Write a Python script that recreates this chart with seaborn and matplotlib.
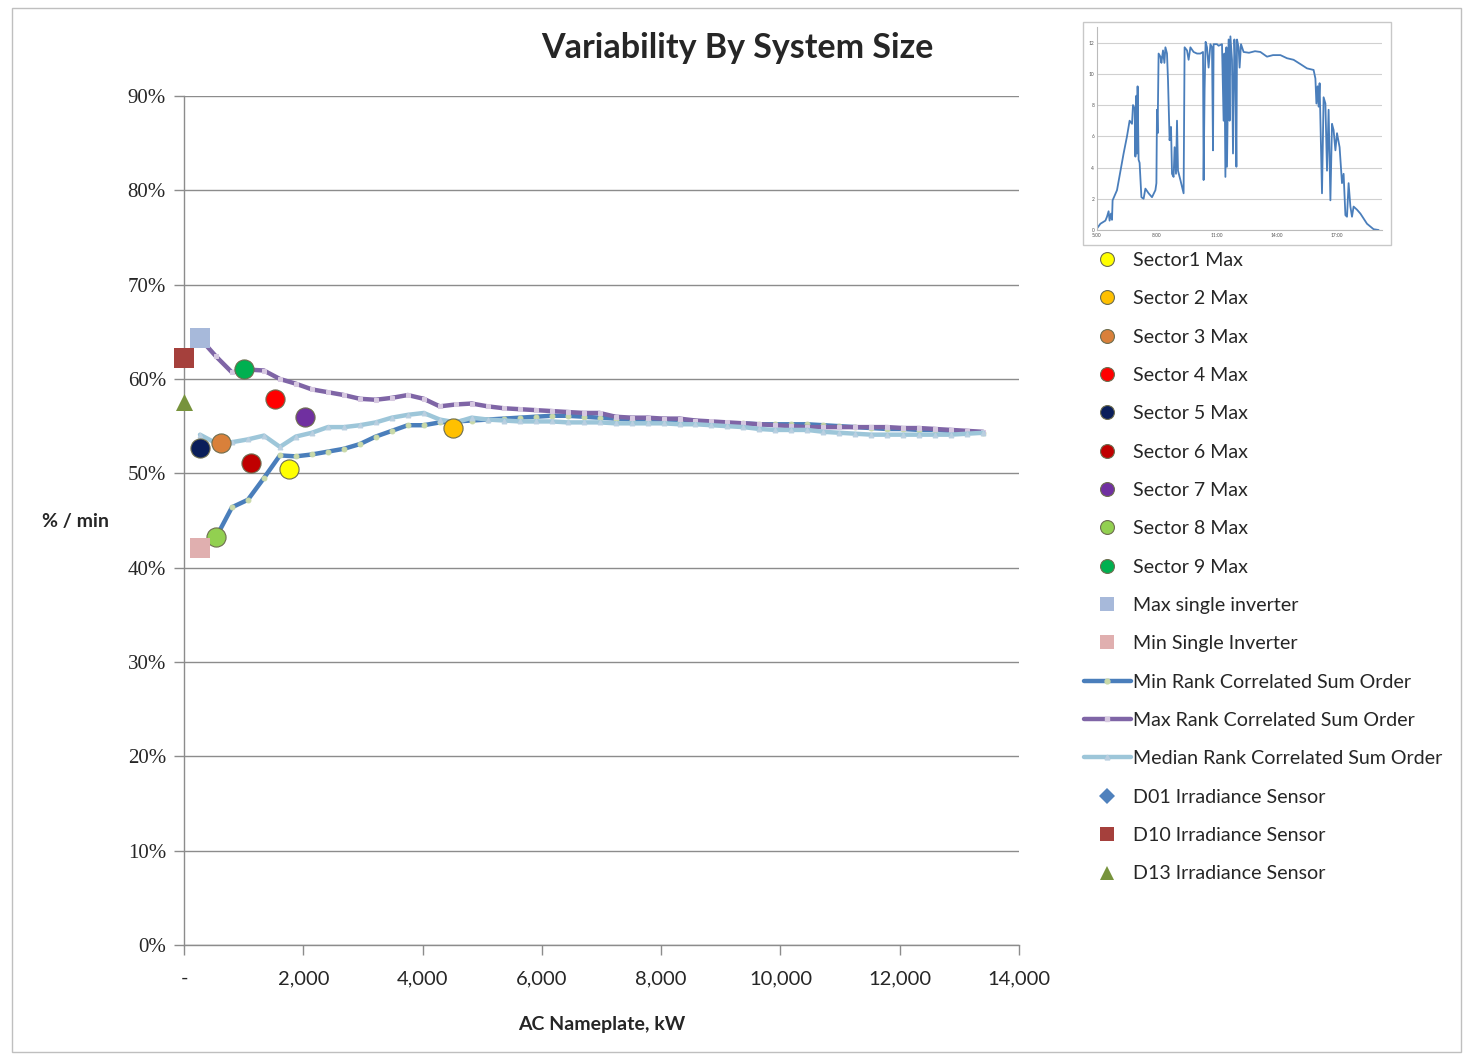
import matplotlib
matplotlib.use("Agg")
import matplotlib.pyplot as plt
import matplotlib.ticker as mticker
from matplotlib.patches import Rectangle
from matplotlib.lines import Line2D
import seaborn as sns
import numpy as np
import pandas as pd

# ---------------- data ----------------
step_kw = 268
n_pts = 50
cum_kw = [step_kw * (i + 1) for i in range(n_pts)]

min_rank = [42.1, 43.2, 46.4, 47.2, 49.5, 51.9, 51.8, 52.0, 52.3, 52.6,
            53.1, 53.9, 54.5, 55.1, 55.1, 55.4, 55.5, 55.6, 55.7, 55.8,
            55.9, 56.0, 56.1, 56.1, 56.0, 55.9, 55.8, 55.7, 55.7, 55.6,
            55.6, 55.5, 55.4, 55.3, 55.3, 55.2, 55.2, 55.2, 55.2, 55.1,
            55.0, 54.9, 54.8, 54.7, 54.7, 54.6, 54.6, 54.5, 54.4, 54.3]
max_rank = [64.3, 62.4, 60.7, 61.0, 60.9, 60.0, 59.5, 58.9, 58.6, 58.3,
            57.9, 57.8, 58.0, 58.3, 57.9, 57.1, 57.3, 57.4, 57.1, 56.9,
            56.8, 56.7, 56.6, 56.5, 56.4, 56.4, 56.0, 55.9, 55.9, 55.8,
            55.8, 55.6, 55.5, 55.4, 55.3, 55.2, 55.1, 55.0, 54.9, 54.9,
            54.9, 54.9, 54.9, 54.9, 54.8, 54.8, 54.7, 54.6, 54.5, 54.4]
median_rank = [54.1, 53.2, 53.3, 53.6, 54.0, 52.8, 53.9, 54.3, 54.9, 54.9,
               55.1, 55.4, 55.9, 56.2, 56.4, 55.7, 55.4, 55.9, 55.7, 55.6,
               55.5, 55.5, 55.5, 55.4, 55.4, 55.4, 55.3, 55.3, 55.3, 55.3,
               55.2, 55.2, 55.1, 55.0, 54.9, 54.7, 54.6, 54.6, 54.6, 54.4,
               54.3, 54.2, 54.1, 54.1, 54.1, 54.1, 54.1, 54.1, 54.2, 54.3]

point_labels = ["Sector1 Max", "Sector 2 Max", "Sector 3 Max", "Sector 4 Max",
                "Sector 5 Max", "Sector 6 Max", "Sector 7 Max", "Sector 8 Max",
                "Sector 9 Max", "Max single inverter", "Min Single Inverter",
                "D01 Irradiance Sensor", "D10 Irradiance Sensor", "D13 Irradiance Sensor"]
point_x = [1766, 4510, 620, 1526, 268, 1123, 2029, 531, 1006, 268, 268, 0, 0, 0]
point_y = [50.5, 54.8, 53.25, 57.9, 52.7, 51.1, 56.0, 43.2, 61.05, 64.35, 42.1, 62.2, 62.2, 57.6]
point_colors = ["#FFFF00", "#FFC000", "#D9803A", "#FF0000", "#0A1E5A", "#C00000",
                "#7030A0", "#92D050", "#00B050", "#A7B9DA", "#E0AFAF",
                "#4F81BD", "#A5403C", "#77933C"]
point_markers = ["o"] * 9 + ["s", "s", "D", "s", "^"]

line_labels = ["Min Rank Correlated Sum Order", "Max Rank Correlated Sum Order",
               "Median Rank Correlated Sum Order"]

# inset irradiance trace (hours, value)
inset_t = [5.00, 5.17, 5.42, 5.50, 5.58, 5.63, 5.70, 5.75, 5.78, 6.00, 6.33, 6.50,
           6.63, 6.75, 6.80, 6.88, 6.92, 6.97, 7.00, 7.03, 7.08, 7.13, 7.22, 7.33,
           7.42, 7.58, 7.75, 7.92, 7.97, 8.00, 8.03, 8.08, 8.17, 8.22, 8.30, 8.37,
           8.42, 8.50, 8.55, 8.63, 8.70, 8.75, 8.83, 8.88, 8.95, 9.00, 9.05, 9.17,
           9.33, 9.38, 9.50, 9.58, 9.67, 9.83, 10.00, 10.17, 10.30, 10.33, 10.38,
           10.43, 10.50, 10.58, 10.67, 10.75, 10.80, 10.83, 11.00, 11.08, 11.25,
           11.33, 11.37, 11.42, 11.47, 11.50, 11.58, 11.63, 11.67, 11.75, 11.80,
           11.87, 11.92, 11.97, 12.00, 12.08, 12.13, 12.20, 12.33, 12.60, 12.90,
           13.17, 13.50, 13.80, 14.17, 14.50, 14.83, 15.20, 15.50, 15.83, 15.92,
           15.97, 16.03, 16.08, 16.13, 16.25, 16.33, 16.42, 16.50, 16.58, 16.67,
           16.75, 16.83, 16.92, 17.00, 17.13, 17.25, 17.33, 17.42, 17.50, 17.58,
           17.67, 17.75, 17.83, 18.00, 18.17, 18.50, 18.83, 19.08]
inset_v = [0.1, 0.4, 0.6, 0.85, 1.2, 0.6, 1.05, 0.65, 1.9, 2.55, 4.9, 6.0,
           7.0, 6.8, 8.0, 7.8, 4.7, 8.6, 4.9, 9.2, 4.5, 4.3, 2.1, 2.0,
           2.65, 2.35, 2.1, 2.55, 3.0, 7.7, 6.2, 11.3, 11.1, 10.7, 11.5, 10.7,
           11.7, 11.3, 9.6, 5.75, 6.6, 3.6, 3.4, 5.3, 3.6, 7.0, 3.8, 3.2,
           2.35, 11.7, 11.5, 10.9, 11.7, 11.4, 11.3, 11.3, 11.4, 3.2, 9.0,
           12.05, 11.7, 10.4, 11.9, 11.7, 5.1, 11.9, 11.9, 11.8, 11.9,
           7.0, 11.3, 3.4, 11.7, 4.05, 12.2, 7.0, 12.4, 10.9, 4.9,
           12.2, 10.4, 4.05, 12.2, 11.7, 10.4, 11.9, 11.4, 11.35, 11.45,
           11.4, 11.1, 11.2, 11.2, 11.0, 10.9, 10.6, 10.35, 10.25, 9.7,
           8.1, 9.2, 7.9, 9.4, 2.35, 8.5, 8.1, 3.8, 7.7, 1.9,
           6.8, 6.4, 5.1, 6.2, 5.3, 3.0, 3.6, 0.95, 0.85, 3.0,
           1.5, 0.85, 1.5, 1.3, 1.05, 0.4, 0.05, 0.0]
inset_xticks = [5, 8, 11, 14, 17]
inset_xticklabels = ["5:00", "8:00", "11:00", "14:00", "17:00"]

# ---------------- style ----------------
sns.set_theme(style="white")
SANS = ["Lato", "DejaVu Sans"]
SERIF = ["Liberation Serif", "DejaVu Serif"]
plt.rcParams["font.family"] = SANS

W, H = 1463, 1055
fig = plt.figure(figsize=(W / 100, H / 100), dpi=100)
fig.patch.set_facecolor("white")

def fx(px):
    return px / W

def fy(py):
    return 1 - py / H

ax = fig.add_axes([fx(184), fy(945), fx(1019) - fx(184), fy(96) - fy(945)])

line_colors = ["#4A7EBB", "#7F65A6", "#9DC6D9"]
mk_colors = ["#C9D9A8", "#D6C8E0", "#B9CFE0"]
mk_shapes = ["o", "s", "^"]
handles = {}
for lab, ys, c, mc, ms in zip(line_labels, [min_rank, max_rank, median_rank],
                              line_colors, mk_colors, mk_shapes):
    df = pd.DataFrame({"x": cum_kw, "y": ys})
    sns.lineplot(data=df, x="x", y="y", ax=ax, color=c, lw=3.2, marker=ms,
                 markersize=3.5, markerfacecolor=mc, markeredgecolor=mc,
                 zorder=3, sort=False)
    handles[lab] = Line2D([], [], color=c, lw=3.2, marker=ms, markersize=3.5,
                          markerfacecolor=mc, markeredgecolor=mc)

sizes = {"o": 190, "s": 190, "D": 70, "^": 150}
for lab, x, y, c, m in zip(point_labels, point_x, point_y, point_colors, point_markers):
    ec = "#6E6E50" if m == "o" else c
    lw = 0.8 if m == "o" else 0
    zo = 4 if lab.startswith("D01") else 5
    sns.scatterplot(x=[x], y=[y], ax=ax, color=c, marker=m, s=sizes[m],
                    edgecolor=ec, linewidth=lw, zorder=zo, clip_on=False)
    handles[lab] = Line2D([], [], ls="none", marker=m, color=c,
                          markersize=10 if m != "D" else 8,
                          markeredgecolor=ec, markeredgewidth=lw)

ax.set_xlim(0, 14000)
ax.set_ylim(0, 90)
ax.set_xticks(np.arange(0, 14001, 2000))
ax.set_yticks(np.arange(0, 91, 10))
ax.xaxis.set_major_formatter(mticker.FuncFormatter(lambda v, p: "-" if v == 0 else f"{int(v):,}"))
ax.yaxis.set_major_formatter(mticker.FuncFormatter(lambda v, p: f"{int(round(v))}%"))
ax.grid(axis="y", color="#8C8C8C", lw=1)
ax.grid(axis="x", visible=False)
for s in ["top", "right"]:
    ax.spines[s].set_visible(False)
for s in ["left", "bottom"]:
    ax.spines[s].set_color("#8C8C8C")
    ax.spines[s].set_linewidth(1)
ax.tick_params(axis="both", which="major", direction="out", length=7, width=1,
               color="#8C8C8C", bottom=True, left=True)
ax.tick_params(axis="x", pad=11, labelsize=14.5)
ax.tick_params(axis="y", pad=6, labelsize=15)
for t in ax.get_yticklabels():
    t.set_fontfamily(SERIF)
for t in ax.get_xticklabels():
    t.set_fontfamily(SANS)
ax.set_xlabel("AC Nameplate, kW", fontsize=14, fontweight="bold", labelpad=21)
ax.set_ylabel("")
fig.text(fx(75), fy(521), "% / min", fontsize=14, fontweight="bold",
         ha="center", va="center")

fig.text(fx(737), fy(48), "Variability By System Size", fontsize=24.5,
         fontweight="bold", ha="center", va="center")

order = point_labels[:11] + line_labels + point_labels[11:]
leg = fig.legend([handles[k] for k in order], order, loc="upper left",
                 bbox_to_anchor=(fx(1076), fy(244)), frameon=False,
                 fontsize=14.1, labelspacing=1.09, handlelength=2.4,
                 handletextpad=0.12, borderaxespad=0)

# inset
fig.patches.append(Rectangle((fx(1083), fy(245)), fx(1391) - fx(1083), fy(22) - fy(245),
                             transform=fig.transFigure, fill=False,
                             edgecolor="#C8C8C8", lw=1, zorder=0))
iax = fig.add_axes([fx(1097), fy(230), fx(1382) - fx(1097), fy(27) - fy(230)])
iax.set_facecolor("none")
sns.lineplot(x=inset_t, y=inset_v, ax=iax, color="#4A7EBB", lw=1.3, sort=False)
iax.set_xlim(5, 19.25)
iax.set_ylim(0, 13)
iax.set_yticks(np.arange(0, 13, 2))
iax.set_xticks(inset_xticks)
iax.set_xticklabels(inset_xticklabels)
iax.tick_params(labelsize=3.5, length=0, pad=2, colors="#555555")
iax.grid(axis="y", color="#D0D0D0", lw=0.8)
iax.grid(axis="x", visible=False)
iax.set_xlabel("")
iax.set_ylabel("")
for s in ["top", "right"]:
    iax.spines[s].set_visible(False)
for s in ["left", "bottom"]:
    iax.spines[s].set_color("#BBBBBB")
    iax.spines[s].set_linewidth(0.8)

# outer chart border
fig.patches.append(Rectangle((fx(12), fy(1052)), fx(1461) - fx(12), fy(8) - fy(1052),
                             transform=fig.transFigure, fill=False,
                             edgecolor="#BFBFBF", lw=1, zorder=0))

fig.savefig("out.png", dpi=100)
